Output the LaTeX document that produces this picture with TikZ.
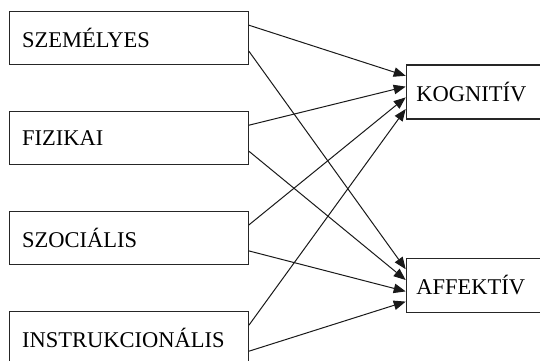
\documentclass[tikz,border=0pt]{standalone}
\usepackage{fontspec}
\setmainfont{Liberation Serif}
\usetikzlibrary{arrows.meta}
\begin{document}
\begin{tikzpicture}[x=1pt,y=-1pt,
  lbox/.style={draw=black!85, line width=1.4pt, anchor=north west, inner xsep=13pt, inner ysep=0pt,
    minimum height=53pt, text width=213pt, align=left, font=\fontsize{22.5}{26}\selectfont},
  rbox/.style={draw=black!85, line width=1.4pt, anchor=north west, inner xsep=10pt, inner ysep=0pt,
    minimum height=54pt, text width=150pt, align=left, font=\fontsize{22.5}{26}\selectfont},
  conn/.style={draw=black!90, line width=1pt, -{Triangle[length=12pt,width=9.5pt]}}]
\useasboundingbox (0,0) rectangle (540,360);
\clip (0,0) rectangle (540,360);
\node[lbox] (sz) at (8.5,11) {SZEMÉLYES};
\node[lbox] (fi) at (8.5,111) {FIZIKAI};
\node[lbox] (so) at (8.5,210.7) {SZOCIÁLIS};
\node[lbox] (in) at (8.5,311) {INSTRUKCIONÁLIS};
\node[rbox] (ko) at (405.7,64.3) {KOGNITÍV};
\node[rbox] (af) at (405.7,257.7) {AFFEKTÍV};
% to KOGNITIV
\draw[conn] ([yshift=13pt]sz.east) -- ([yshift=16.2pt]ko.west);
\draw[conn] ([yshift=13pt]fi.east) -- ([yshift=5.4pt]ko.west);
\draw[conn] ([yshift=13pt]so.east) -- ([yshift=-5.4pt]ko.west);
\draw[conn] ([yshift=13pt]in.east) -- ([yshift=-17pt]ko.west);
% to AFFEKTIV
\draw[conn] ([yshift=-13pt]sz.east) -- ([yshift=16.2pt]af.west);
\draw[conn] ([yshift=-13pt]fi.east) -- ([yshift=5.4pt]af.west);
\draw[conn] ([yshift=-13pt]so.east) -- ([yshift=-6pt]af.west);
\draw[conn] ([yshift=-13pt]in.east) -- ([yshift=-16.2pt]af.west);
\end{tikzpicture}
\end{document}
